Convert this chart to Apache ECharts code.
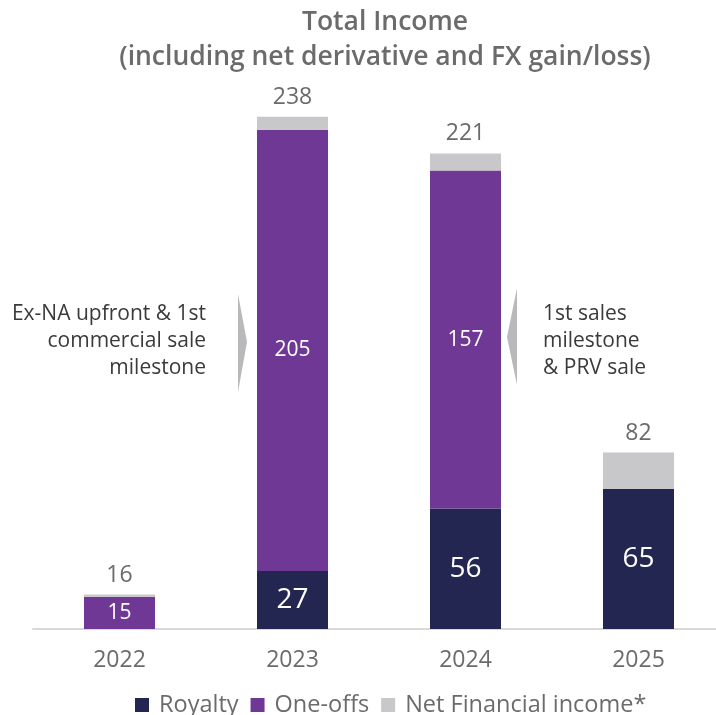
<!DOCTYPE html>
<html>
<head>
<meta charset="utf-8">
<script src="https://cdn.jsdelivr.net/npm/echarts@6/dist/echarts.min.js"></script>
<style>html,body{margin:0;padding:0;background:#fff}#c{width:716px;height:715px}</style>
</head>
<body>
<div id="c"></div>
<script>
const years = ['2022', '2023', '2024', '2025'];
const royalty = [0, 27, 56, 65];
const oneOffs = [15, 205, 157, 0];
const netFinancial = [1, 6, 8, 17];
const totals = [16, 238, 221, 82];
const seriesNames = ['Royalty', 'One-offs', 'Net Financial income*'];
const titleText = 'Total Income\n(including net derivative and FX gain/loss)';
const noteLeft = 'Ex-NA upfront & 1st\ncommercial sale\nmilestone';
const noteRight = '1st sales\nmilestone\n& PRV sale';

const FONT = '"Open Sans", "Noto Sans", sans-serif';
const chart = echarts.init(document.getElementById('c'), null, {renderer: 'canvas'});

function inside(size) {
  return {
    show: true, position: 'inside', color: '#ffffff', fontFamily: FONT,
    fontSize: size, fontWeight: 500,
    formatter: p => (p.value ? String(p.value) : '')
  };
}

chart.setOption({
  animation: false,
  textStyle: {fontFamily: FONT},
  title: {
    text: titleText, left: 380, textAlign: 'center', top: 0,
    textStyle: {fontFamily: FONT, fontSize: 26.5, fontWeight: 600, color: '#6b6b6b', lineHeight: 35}
  },
  legend: {
    bottom: -7, left: 130, itemWidth: 14, itemHeight: 14, itemGap: 12,
    icon: 'rect',
    textStyle: {fontFamily: FONT, fontSize: 23.5, color: '#6b6b6b', padding: [0, 0, 0, 5]},
    data: seriesNames
  },
  grid: {left: 33, width: 692, top: 91, height: 538, outerBoundsMode: 'none', containLabel: false},
  xAxis: {
    type: 'category', data: years,
    axisLine: {show: true, lineStyle: {color: '#d9d9d9', width: 2}},
    axisTick: {show: false},
    axisLabel: {color: '#6b6b6b', fontSize: 23, fontFamily: FONT, margin: 20}
  },
  yAxis: {type: 'value', min: 0, max: 250, show: false, splitLine: {show: false}},
  series: [
    {name: seriesNames[0], type: 'bar', stack: 't', barWidth: 71, data: royalty,
     itemStyle: {color: '#222651'}, label: inside(28)},
    {name: seriesNames[1], type: 'bar', stack: 't', barWidth: 71, data: oneOffs,
     itemStyle: {color: '#6f3894'}, label: inside(21)},
    {name: seriesNames[2], type: 'bar', stack: 't', barWidth: 71, data: netFinancial,
     itemStyle: {color: '#c8c8ca'},
     label: {show: true, position: 'top', distance: 8, color: '#6b6b6b', fontSize: 23, fontFamily: FONT,
             formatter: p => String(totals[p.dataIndex])}}
  ],
  graphic: [
    {type: 'text', x: 206, y: 301,
     style: {text: noteLeft, align: 'right', verticalAlign: 'top', fill: '#3a3a3a', font: '21px ' + FONT, lineHeight: 27}},
    {type: 'text', x: 543, y: 301,
     style: {text: noteRight, align: 'left', verticalAlign: 'top', fill: '#3a3a3a', font: '21px ' + FONT, lineHeight: 27}},
    {type: 'polygon', shape: {points: [[238, 294], [247, 342], [238, 392]]}, style: {fill: '#b9b9bc'}},
    {type: 'polygon', shape: {points: [[517, 288], [507, 337], [517, 385]]}, style: {fill: '#b9b9bc'}}
  ]
});
</script>
</body>
</html>
